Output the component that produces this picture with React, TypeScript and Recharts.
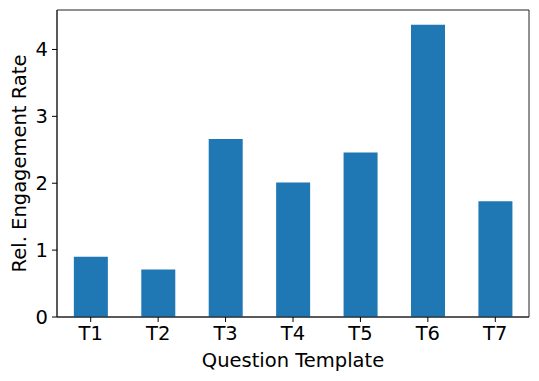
import { Bar, BarChart, ReferenceArea, XAxis, YAxis } from "recharts"

const templates = ["T1", "T2", "T3", "T4", "T5", "T6", "T7"]
const engagement = [0.9, 0.71, 2.66, 2.01, 2.46, 4.37, 1.73]
const yTicks = [0, 1, 2, 3, 4]
const yMax = 4.59

const data = templates.map((name, i) => ({ name, rate: engagement[i] }))

const FONT = "DejaVu Sans, sans-serif"
const FS = 19.5
const tickStyle = { fill: "#000", fontSize: FS, fontFamily: FONT }
const spine = { stroke: "#222", strokeWidth: 1 }

export default function App() {
  return (
    <div style={{ position: "absolute", left: 0, top: 0, background: "#fff" }}>
      <BarChart
        width={539}
        height={381}
        data={data}
        margin={{ top: 10, right: 10, left: 0, bottom: 0 }}
        barCategoryGap="25%"
      >
        <XAxis
          dataKey="name"
          height={64}
          tick={tickStyle}
          tickSize={5}
          tickMargin={4}
          tickLine={{ stroke: "#000" }}
          axisLine={spine}
          interval={0}
          label={{
            value: "Question Template",
            position: "insideBottom",
            offset: 14,
            style: { fill: "#000", fontSize: FS, fontFamily: FONT },
          }}
        />
        <YAxis
          width={57}
          domain={[0, yMax]}
          ticks={yTicks}
          tick={tickStyle}
          tickSize={5}
          tickMargin={4}
          tickLine={{ stroke: "#000" }}
          axisLine={spine}
          allowDataOverflow
          label={{
            value: "Rel. Engagement Rate",
            angle: -90,
            position: "insideLeft",
            offset: 19,
            style: { fill: "#000", fontSize: FS, fontFamily: FONT, textAnchor: "middle" },
          }}
        />
        <Bar dataKey="rate" fill="#1f77b4" isAnimationActive={false} />
        <ReferenceArea y1={0} y2={yMax} fill="none" stroke="#222" strokeWidth={1} fillOpacity={0} ifOverflow="visible" />
      </BarChart>
    </div>
  )
}
